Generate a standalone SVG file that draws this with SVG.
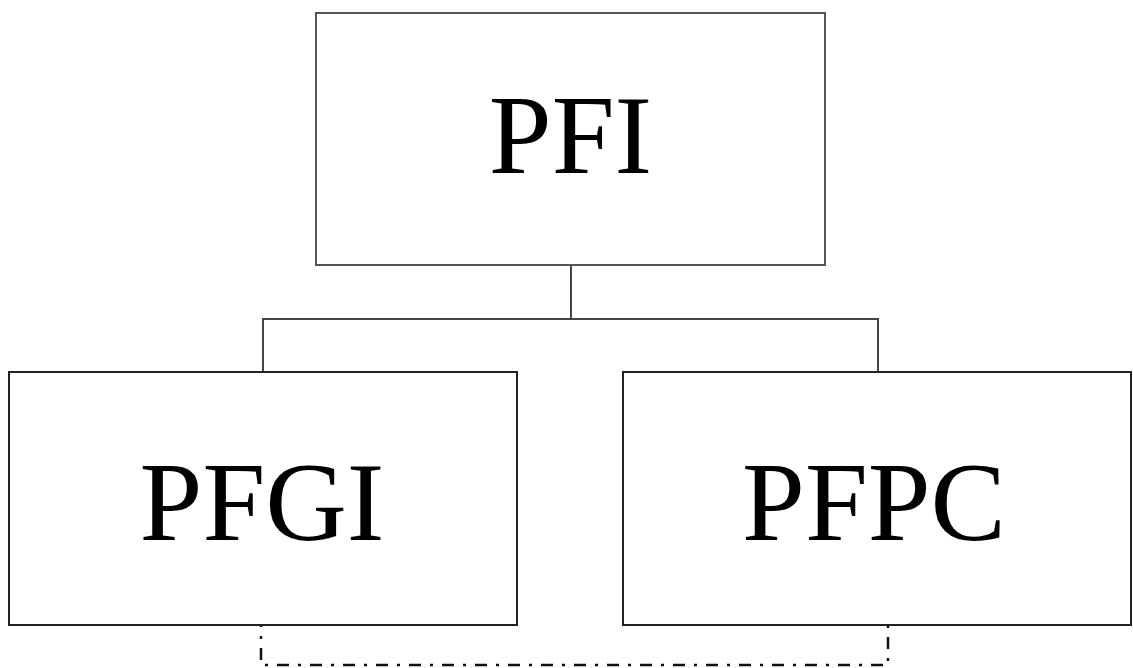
<svg xmlns="http://www.w3.org/2000/svg" width="1133" height="668" viewBox="0 0 1133 668">
  <style>
    .box { fill: #ffffff; stroke: #222222; stroke-width: 2; }
    .box-top { stroke: #555555; }
    .label { font-family: "Liberation Serif", "Times New Roman", serif; font-size: 113px; fill: #000000; text-anchor: middle; }
    .tree { fill: none; stroke: #444444; stroke-width: 2; }
    .link { fill: none; stroke: #111111; stroke-width: 2.5; stroke-dasharray: 12 9 3 9; }
  </style>
  <rect width="1133" height="668" fill="#ffffff"/>

  <!-- connectors -->
  <g id="connectors">
    <path class="tree" d="M571,265 V319 M263,372 V319 H878 V372"/>
    <path class="link" d="M261,615 V665 H888 V615"/>
  </g>

  <g id="node-pfi">
    <rect class="box box-top" x="316" y="13" width="509" height="252"/>
    <text class="label" x="570.5" y="173">PFI</text>
  </g>

  <g id="node-pfgi">
    <rect class="box" x="9" y="372" width="508" height="253"/>
    <text class="label" x="262" y="540">PFGI</text>
  </g>

  <g id="node-pfpc">
    <rect class="box" x="623" y="372" width="508" height="253"/>
    <text class="label" x="874" y="540">PFPC</text>
  </g>
</svg>
